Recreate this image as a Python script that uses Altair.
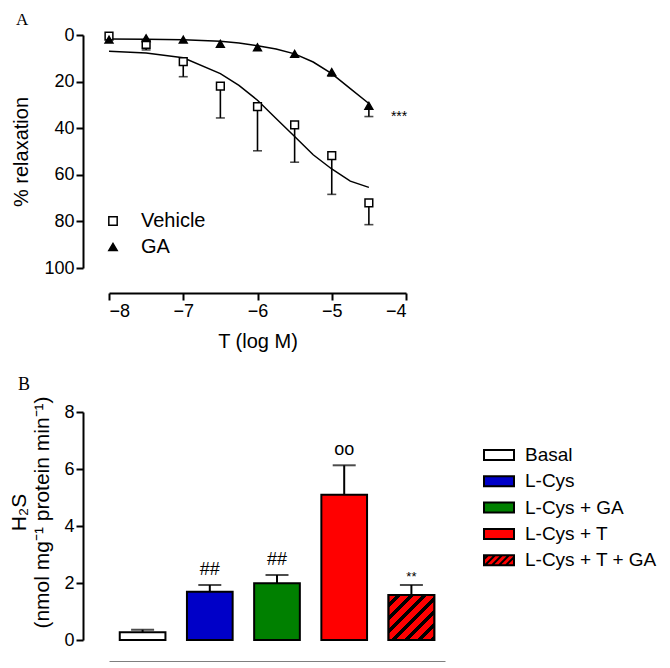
import altair as alt
import pandas as pd

# ---------------- Panel A data ----------------
log_t = [-8, -7.5, -7, -6.5, -6, -5.5, -5, -4.5]
vehicle_mean = [0.5, 4.0, 11.4, 21.9, 30.7, 38.6, 51.8, 72.0]
vehicle_sem = [0.0, 2.4, 6.5, 13.7, 19.0, 16.0, 16.6, 9.4]
ga_mean = [2.0, 1.4, 2.0, 3.8, 5.3, 8.1, 15.9, 30.4]
ga_sem = [0.0, 0.0, 0.0, 0.0, 0.0, 0.0, 1.8, 4.6]

curve_x = [-8, -7.5, -7, -6.5, -6.25, -6, -5.75, -5.5, -5.25, -5, -4.75, -4.5]
vehicle_fit = [7.0, 7.7, 9.8, 16.6, 21.6, 28.0, 35.8, 43.6, 51.4, 57.5, 62.7, 65.4]
ga_fit = [1.7, 1.8, 2.0, 2.7, 3.4, 4.6, 6.0, 8.1, 11.6, 16.6, 23.0, 29.4]

series_names = ["Vehicle", "GA"]
x_ticks = [-8, -7, -6, -5, -4]
y_ticks_a = [0, 20, 40, 60, 80, 100]

# ---------------- Panel B data ----------------
groups = ["Basal", "L-Cys", "L-Cys + GA", "L-Cys + T", "L-Cys + T + GA"]
h2s_mean = [0.27, 1.69, 1.99, 5.10, 1.58]
h2s_sem = [0.09, 0.24, 0.29, 1.03, 0.35]
annotations = ["", "##", "##", "oo", "**"]
bar_colors = ["white", "#0000c8", "#008000", "#ff0000", "#ff0000"]
y_ticks_b = [0, 2, 4, 6, 8]

FONT = "Liberation Sans"

# ---------- tables ----------
rows = []
for name, means, sems in [("Vehicle", vehicle_mean, vehicle_sem), ("GA", ga_mean, ga_sem)]:
    for x, m, s in zip(log_t, means, sems):
        rows.append({"logT": x, "series": name, "mean": m, "sem": s, "upper": m + s})
dfA = pd.DataFrame(rows)

crows = []
for name, fit in [("Vehicle", vehicle_fit), ("GA", ga_fit)]:
    for x, v in zip(curve_x, fit):
        crows.append({"logT": x, "series": name, "fit": v})
dfC = pd.DataFrame(crows)

star_df = pd.DataFrame({"logT": [log_t[-1]], "y": [ga_mean[-1] + ga_sem[-1]], "label": ["***"]})

dfB = pd.DataFrame({"group": groups, "mean": h2s_mean, "sem": h2s_sem,
                    "upper": [m + s for m, s in zip(h2s_mean, h2s_sem)],
                    "anno": annotations})

# ---------- Panel A ----------
xA = alt.X("logT:Q", scale=alt.Scale(domain=[-8, -4], nice=False),
           axis=alt.Axis(values=x_ticks, format="d", title="T (log M)", offset=25,
                         titlePadding=11))
yA_scale = alt.Scale(domain=[0, 100], reverse=True, nice=False)
yA_axis = alt.Axis(values=y_ticks_a, title="% relaxation", offset=26, titlePadding=12)

curves = alt.Chart(dfC).mark_line(color="black", strokeWidth=1.5).encode(
    x=xA, y=alt.Y("fit:Q", scale=yA_scale, axis=yA_axis), detail="series:N")

errs = alt.Chart(dfA).transform_filter("datum.sem > 0").mark_rule(
    color="black", strokeWidth=1.6).encode(
    x="logT:Q", y=alt.Y("mean:Q"), y2="upper:Q")
caps = alt.Chart(dfA).transform_filter("datum.sem > 0").mark_tick(
    color="black", orient="horizontal", size=9, thickness=1.6).encode(
    x="logT:Q", y=alt.Y("upper:Q"))

legA = dict(title=None, orient="none", legendX=-6, legendY=176,
            labelFontSize=20, labelFont=FONT, labelColor="black",
            symbolSize=70, symbolStrokeWidth=1.5, symbolOpacity=1,
            rowPadding=6, labelOffset=18)

points = alt.Chart(dfA).mark_point(filled=True, strokeWidth=1.5, size=60, opacity=1).encode(
    x="logT:Q", y="mean:Q",
    shape=alt.Shape("series:N", scale=alt.Scale(domain=series_names,
                                                range=["square", "triangle-up"]),
                    legend=alt.Legend(**legA)),
    fill=alt.Fill("series:N", scale=alt.Scale(domain=series_names, range=["white", "black"]),
                  legend=alt.Legend(**legA)),
    stroke=alt.Stroke("series:N", scale=alt.Scale(domain=series_names, range=["black", "black"]),
                      legend=alt.Legend(**legA)))

stars = alt.Chart(star_df).mark_text(align="left", baseline="middle", dx=22, fontSize=14,
                                     font=FONT, color="black").encode(
    x="logT:Q", y="y:Q", text="label:N")

panelA = alt.layer(curves, errs, caps, points, stars).properties(
    width=297, height=233,
    title=alt.TitleParams("A", anchor="start", font="Liberation Serif", fontSize=17,
                          fontWeight="normal", color="black", offset=-3, dx=4))

# ---------- Panel B ----------
xB = alt.X("group:N", sort=groups,
           scale=alt.Scale(domain=groups, paddingInner=0.32, paddingOuter=0.16),
           axis=alt.Axis(title=None, labels=False, ticks=False, offset=22))
yB = alt.Y("mean:Q", scale=alt.Scale(domain=[0, 8], nice=False),
           axis=alt.Axis(values=y_ticks_b, offset=26, titlePadding=11, titleFontSize=21,
                         titleY=100,
                         title=["H₂S", "(nmol mg⁻¹ protein min⁻¹)"]))

fill_scale = alt.Scale(domain=groups, range=bar_colors)

rect_path = "M-1.5,-0.5H1.5V0.5H-1.5Z"
hatch_path = ("M-1.5,-0.5H1.5V0.5H-1.5Z"
              "M-1.5,-0.1L-1.1,-0.5M-1.4,0.5L-0.4,-0.5M-0.7,0.5L0.3,-0.5"
              "M0,0.5L1,-0.5M0.7,0.5L1.5,-0.3")
shape_scale = alt.Scale(domain=groups, range=[rect_path] * 4 + [hatch_path])
stroke_scale = alt.Scale(domain=groups, range=["black"] * 5)

bars = alt.Chart(dfB).mark_bar(stroke="black", strokeWidth=2).encode(
    x=xB, y=yB, fill=alt.Fill("group:N", scale=fill_scale, legend=None))

stops = []
n_stripes = 7
for i in range(n_stripes):
    a = i / n_stripes
    b = (i + 0.62) / n_stripes
    c = (i + 1) / n_stripes
    stops += [alt.GradientStop(color="#ff0000", offset=a),
              alt.GradientStop(color="#ff0000", offset=b),
              alt.GradientStop(color="black", offset=b),
              alt.GradientStop(color="black", offset=c)]
hatch_fill = alt.LinearGradient(gradient="linear", stops=stops, x1=0, y1=0, x2=1, y2=1)

hatched = alt.Chart(dfB).transform_filter(
    alt.datum.group == groups[-1]).mark_bar(
    stroke="black", strokeWidth=2, fill=hatch_fill).encode(x=xB, y=yB)

legB = dict(title=None, orient="none", legendX=379, legendY=32,
            labelFontSize=19, labelFont=FONT, labelColor="black",
            symbolSize=400, symbolStrokeWidth=2,
            symbolOpacity=1, rowPadding=5.3, labelOffset=15)

legend_pts = alt.Chart(dfB).mark_point(filled=True, opacity=0, size=1, strokeWidth=2).encode(
    x=xB, y=alt.Y("mean:Q"),
    fill=alt.Fill("group:N", scale=fill_scale, legend=alt.Legend(**legB)),
    shape=alt.Shape("group:N", scale=shape_scale, legend=alt.Legend(**legB)),
    stroke=alt.Stroke("group:N", scale=stroke_scale, legend=alt.Legend(**legB)))

errB = alt.Chart(dfB).mark_rule(color="black", strokeWidth=2).encode(
    x=xB, y="mean:Q", y2="upper:Q")
capB = alt.Chart(dfB).mark_tick(color="black", orient="horizontal", size=23,
                                thickness=2).encode(x=xB, y="upper:Q")

annoB = alt.Chart(dfB).transform_filter("datum.group != 'L-Cys + T + GA'").mark_text(
    baseline="alphabetic", dy=-10, fontSize=18, font=FONT, color="black").encode(
    x=xB, y="upper:Q", text="anno:N")
annoB2 = alt.Chart(dfB).transform_filter("datum.group == 'L-Cys + T + GA'").mark_text(
    baseline="alphabetic", dy=-4, fontSize=13, font=FONT, color="black").encode(
    x=xB, y="upper:Q", text="anno:N")

panelB = alt.layer(legend_pts, errB, capB, bars, hatched, annoB, annoB2).properties(
    width=336, height=228,
    title=alt.TitleParams("B", anchor="start", font="Liberation Serif", fontSize=18,
                          fontWeight="normal", color="black", offset=2, dx=9))

chart = alt.vconcat(panelA, panelB, spacing=24).properties(
    padding={"left": 0, "top": 3, "right": 0, "bottom": 0}
).resolve_scale(fill="independent", shape="independent", stroke="independent").configure_view(
    stroke=None
).configure_axis(
    grid=False, domainColor="black", domainWidth=2, tickColor="black", tickWidth=2,
    tickSize=7, labelColor="black", labelFont=FONT, labelFontSize=18, labelPadding=2,
    titleColor="black", titleFont=FONT, titleFontSize=20, titleFontWeight="normal"
)

chart.save("out.html", embed_options={"renderer": "svg", "actions": False})
